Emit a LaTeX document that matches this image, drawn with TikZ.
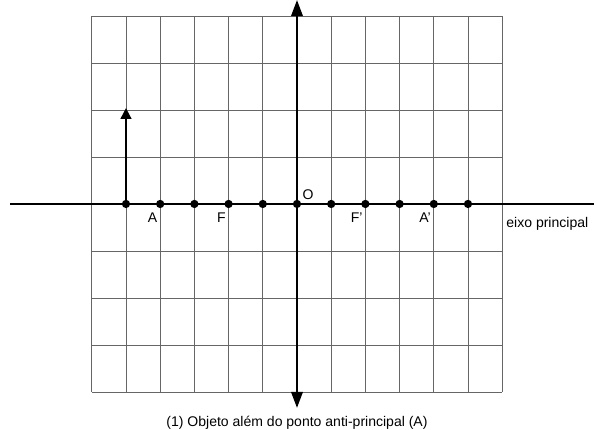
\documentclass[tikz,border=0pt]{standalone}
\usepackage{fontspec}
\setmainfont{Liberation Sans}
\usetikzlibrary{arrows.meta,positioning}

\tikzset{
  gridline/.style={line width=0.6pt,black!60},
  axisline/.style={line width=1.7pt},
  dot/.style={circle,fill,inner sep=0pt,minimum size=6.2pt},
  lbl/.style={font=\fontsize{10.5}{12.5}\selectfont,inner sep=1pt}
}

\begin{document}
\begin{tikzpicture}[x=0.9cm,y=1.2368cm,>=Triangle]
\useasboundingbox (-8.684,-4.809) rectangle (8.772,4.340);
% squared background
\foreach \i in {-6,...,6}
  \draw[gridline] (\i,-4) -- (\i,4);
\foreach \j in {-4,...,4}
  \draw[gridline] (-6,\j) -- (6,\j);
% principal axis
\coordinate (L) at (-8.39,0);
\coordinate (R) at (8.68,0);
\draw[axisline] (L) -- (R);
% vertical axis (lens)
\coordinate (T) at (0,4.34);
\coordinate (B) at (0,-4.34);
\draw[axisline,<->,>={Triangle[length=12pt,width=8.5pt]}] (B) -- (T);
% points on the axis
\foreach \i in {-5,...,5}
  \node[dot] (d\i) at (\i,0) {};
% object, two squares before the lens beyond A
\coordinate (obj) at (-5,2.04);
\draw[line width=1.3pt,->,>={Triangle[length=8pt,width=8pt]}] (d-5) -- (obj);
% labels
\node[lbl,anchor=north east] at ([shift={(-1pt,-5.5pt)}]d-4) {A};
\node[lbl,anchor=north east] at ([shift={(-1pt,-5.5pt)}]d-2) {F};
\node[lbl,anchor=south west] at ([shift={(3pt,2pt)}]d0) {O};
\node[lbl,anchor=north east] at ([shift={(-1pt,-5.5pt)}]d2) {F'};
\node[lbl,anchor=north east] at ([shift={(-1pt,-5.5pt)}]d4) {A'};
\node[lbl,anchor=north east] (eixo) at ([shift={(-3pt,-9pt)}]R) {eixo principal};
\node[lbl] (cap) at (0,-4.65) {(1) Objeto além do ponto anti-principal (A)};
\end{tikzpicture}
\end{document}
